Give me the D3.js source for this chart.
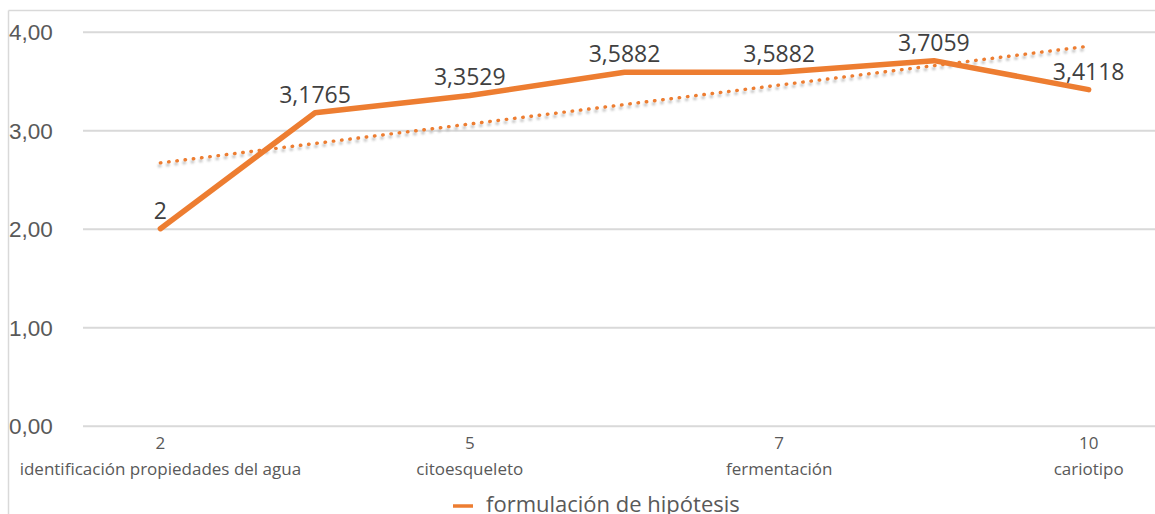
<!DOCTYPE html>
<html lang="es">
<head>
<meta charset="utf-8">
<title>formulación de hipótesis</title>
<script src="https://cdn.jsdelivr.net/npm/d3@7/dist/d3.min.js"></script>
<style>
  html, body { margin: 0; padding: 0; background: #ffffff; }
  svg { display: block; font-family: "Open Sans", "Noto Sans", sans-serif; }
</style>
</head>
<body>
<svg id="chart" width="1155" height="514"></svg>
<script>
// Mean score per practice (category order along the x axis)
const tickNumbers = ["2", "", "5", "", "7", "", "10"];
const tickNames = ["identificación propiedades del agua", "", "citoesqueleto", "", "fermentación", "", "cariotipo"];
const values = [2, 3.1765, 3.3529, 3.5882, 3.5882, 3.7059, 3.4118];
const yTicks = [0, 1, 2, 3, 4];
const seriesName = "formulación de hipótesis";

const ORANGE = "#ED7D31";
const GRID = "#d9d9d9";

const svg = d3.select("#chart");
const W = 1155, H = 514;

const plot = { left: 83, right: 1166, top: 31.7, bottom: 425.7 };

const idx = d3.range(values.length);
const x = d3.scaleBand().domain(idx).range([plot.left, plot.right]).padding(0);
const cx = i => x(i) + x.bandwidth() / 2;
const y = d3.scaleLinear().domain([0, 4]).range([plot.bottom, plot.top]);

const fmtTick = d3.formatLocale({ decimal: ",", thousands: ".", grouping: [3], currency: ["", "€"] }).format(".2f");
const fmtValue = v => String(v).replace(".", ",");

// defs: soft shadow under the trend line
const defs = svg.append("defs");
defs.append("filter").attr("id", "soft").attr("x", "-5%").attr("y", "-50%").attr("width", "110%").attr("height", "200%")
  .append("feGaussianBlur").attr("stdDeviation", 1.1);

// chart frame (top and left edges visible)
svg.append("line").attr("x1", 8.5).attr("x2", W).attr("y1", 10.5).attr("y2", 10.5)
  .attr("stroke", GRID).attr("stroke-width", 1.5);
svg.append("line").attr("x1", 8.5).attr("x2", 8.5).attr("y1", 10.5).attr("y2", H)
  .attr("stroke", GRID).attr("stroke-width", 1.5);

// y axis: gridlines + labels
const yAxis = d3.axisLeft(y).tickValues(yTicks).tickSize(-(plot.right - plot.left)).tickFormat(fmtTick).tickPadding(0);
const yg = svg.append("g").attr("transform", `translate(${plot.left},0)`).call(yAxis);
yg.select(".domain").remove();
yg.selectAll(".tick line").attr("stroke", GRID).attr("stroke-width", 2);
yg.selectAll(".tick text")
  .attr("x", 9 - plot.left).attr("text-anchor", "start")
  .attr("dy", "0.35em")
  .attr("fill", "#595959").style("font-size", "22.5px");

// x axis labels: number line and name line
const xg = svg.append("g");
const xt = xg.selectAll("g.xt").data(idx).join("g").attr("class", "xt")
  .attr("transform", i => `translate(${cx(i)},0)`);
xt.append("text").attr("y", 448.5).attr("text-anchor", "middle")
  .attr("fill", "#595959").style("font-size", "17px").text(i => tickNumbers[i]);
xt.append("text").attr("y", 474.5).attr("text-anchor", "middle")
  .attr("fill", "#595959").style("font-size", "17px").text(i => tickNames[i]);

// linear trend (least squares over category index)
const mx = d3.mean(idx), my = d3.mean(values);
const slope = d3.sum(idx, i => (i - mx) * (values[i] - my)) / d3.sum(idx, i => (i - mx) ** 2);
const intercept = my - slope * mx;
const trend = [0, values.length - 1].map(i => [cx(i), y(intercept + slope * i)]);
const lineGen = d3.line();

svg.append("path").attr("d", lineGen(trend.map(([a, b]) => [a - 1, b + 3])))
  .attr("fill", "none").attr("stroke", "#bdbdbd").attr("stroke-width", 3.4)
  .attr("stroke-linecap", "round").attr("stroke-dasharray", "0.5 7.8")
  .attr("filter", "url(#soft)").attr("opacity", 0.9);
svg.append("path").attr("d", lineGen(trend))
  .attr("fill", "none").attr("stroke", ORANGE).attr("stroke-width", 3.4)
  .attr("stroke-linecap", "round").attr("stroke-dasharray", "0.5 7.8");

// series line
const line = d3.line().x((d, i) => cx(i)).y(d => y(d));
svg.append("path").datum(values).attr("d", line)
  .attr("fill", "none").attr("stroke", ORANGE).attr("stroke-width", 5.5)
  .attr("stroke-linecap", "round").attr("stroke-linejoin", "round");

// data labels
svg.append("g").selectAll("text").data(values).join("text")
  .attr("x", (d, i) => cx(i)).attr("y", d => y(d) - 10)
  .attr("text-anchor", "middle").attr("fill", "#404040").style("font-size", "23px")
  .text(fmtValue);

// legend
const lg = svg.append("g");
lg.append("line").attr("x1", 453).attr("x2", 473).attr("y1", 506).attr("y2", 506)
  .attr("stroke", ORANGE).attr("stroke-width", 3.5);
lg.append("text").attr("x", 486).attr("y", 512).attr("fill", "#595959")
  .style("font-size", "22px").text(seriesName);
</script>
</body>
</html>
